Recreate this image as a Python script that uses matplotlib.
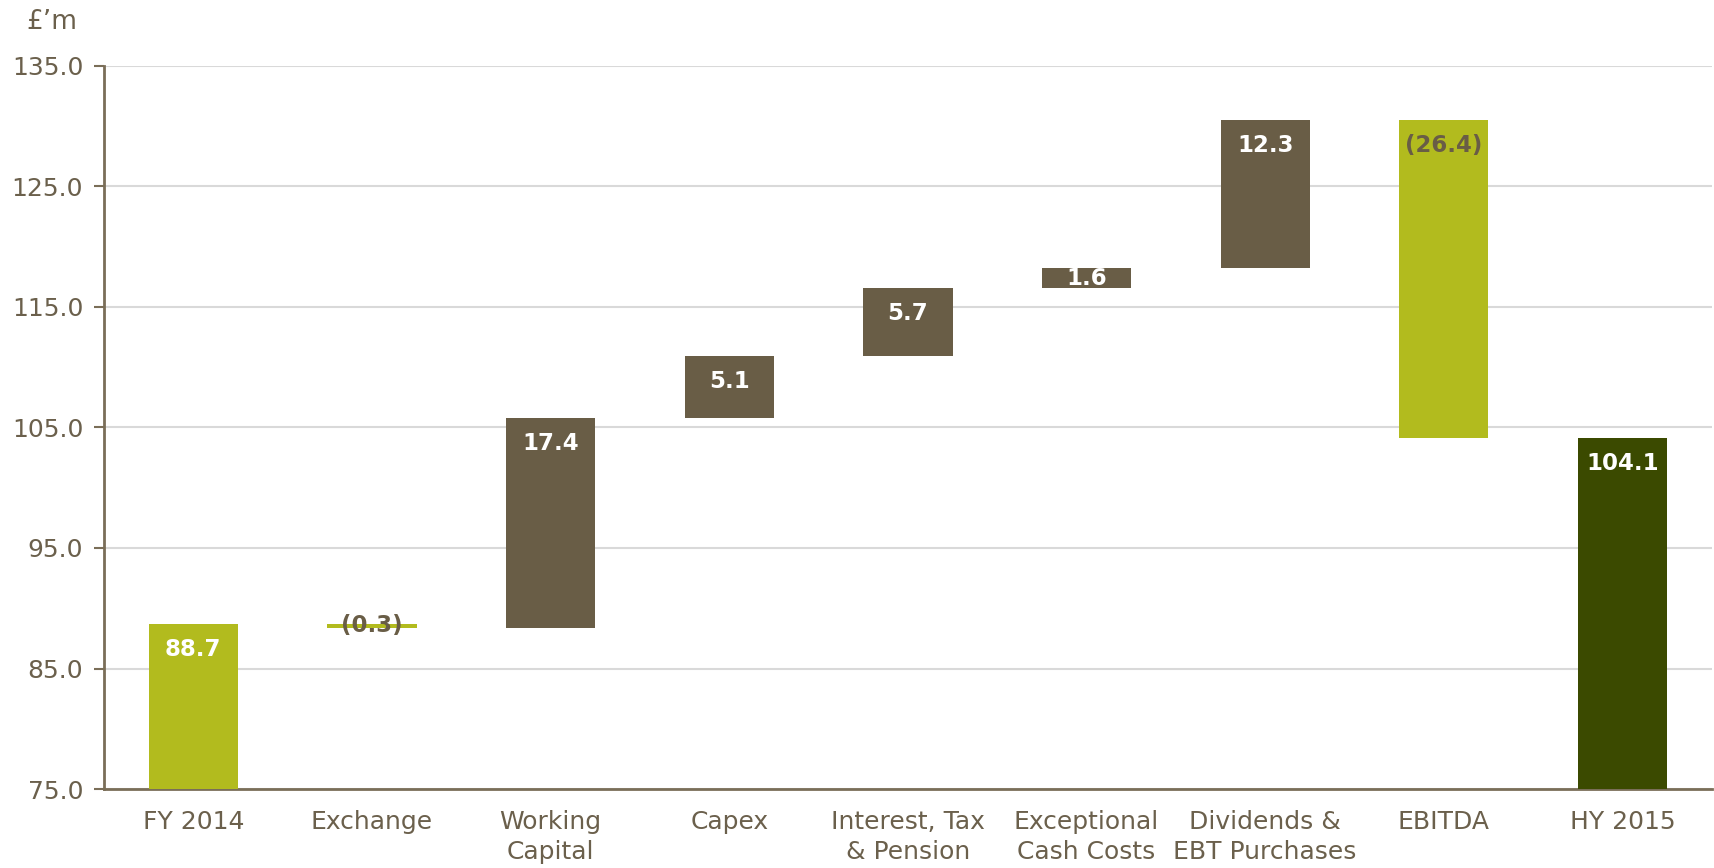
import numpy as np
import matplotlib
matplotlib.use("Agg")
import matplotlib.pyplot as plt

# data
categories = ["FY 2014", "Exchange", "Working\nCapital", "Capex",
              "Interest, Tax\n& Pension", "Exceptional\nCash Costs",
              "Dividends &\nEBT Purchases", "EBITDA", "HY 2015"]
changes = [88.7, -0.3, 17.4, 5.1, 5.7, 1.6, 12.3, -26.4, 104.1]
labels = ["88.7", "(0.3)", "17.4", "5.1", "5.7", "1.6", "12.3", "(26.4)", "104.1"]
kinds = ["total", "delta", "delta", "delta", "delta", "delta", "delta", "delta", "total"]
yticks = [75.0, 85.0, 95.0, 105.0, 115.0, 125.0, 135.0]

GREEN = "#b2bb1e"
BROWN = "#695d46"
DARK = "#3b4a00"
TEXT = "#6b604c"

# running bottoms / heights of the waterfall
bottoms, heights = [], []
level = 0.0
for v, k in zip(changes, kinds):
    if k == "total":
        bottoms.append(0.0)
        heights.append(v)
        level = v
    else:
        new = level + v
        bottoms.append(min(level, new))
        heights.append(abs(v))
        level = new

colors = []
for i, (v, k) in enumerate(zip(changes, kinds)):
    if k == "total":
        colors.append(GREEN if i == 0 else DARK)
    else:
        colors.append(GREEN if v < 0 else BROWN)

plt.rcParams["font.family"] = ["DejaVu Sans"]
fig = plt.figure(figsize=(17.14, 8.68), dpi=100)
ax = fig.add_axes([0.0607, 0.091, 0.938, 0.833])

x = np.arange(len(categories))
ax.bar(x, heights, bottom=bottoms, width=0.5, color=colors, zorder=3)

for i in range(len(categories)):
    top = bottoms[i] + heights[i]
    y = top - min(2.1, heights[i] / 2)
    col = "white" if changes[i] > 0 else BROWN
    ax.text(x[i], y, labels[i], ha="center", va="center", fontsize=16.5,
            fontweight="bold", color=col, zorder=4)

ax.set_ylim(75, 135)
ax.set_xlim(-0.5, len(categories) - 0.5)
ax.set_yticks(yticks)
ax.set_yticklabels([f"{t:.1f}" for t in yticks])
ax.set_xticks(x)
ax.set_xticklabels(categories, linespacing=1.3)
ax.yaxis.grid(True, color="#d9d9d9", linewidth=1.5, zorder=0)
ax.tick_params(axis="y", colors=TEXT, labelsize=18, length=7, width=1.5,
               direction="out", pad=8, labelcolor=TEXT)
ax.tick_params(axis="y", color="#7a6e58")
ax.tick_params(axis="x", length=0, labelsize=18, labelcolor=TEXT, pad=15)
for s in ["top", "right"]:
    ax.spines[s].set_visible(False)
for s in ["left", "bottom"]:
    ax.spines[s].set_color("#7a6e58")
    ax.spines[s].set_linewidth(2)

fig.text(0.03, 0.975, "£’m", fontsize=19, color=TEXT, ha="center", va="center")

fig.savefig("out.png", dpi=100)
